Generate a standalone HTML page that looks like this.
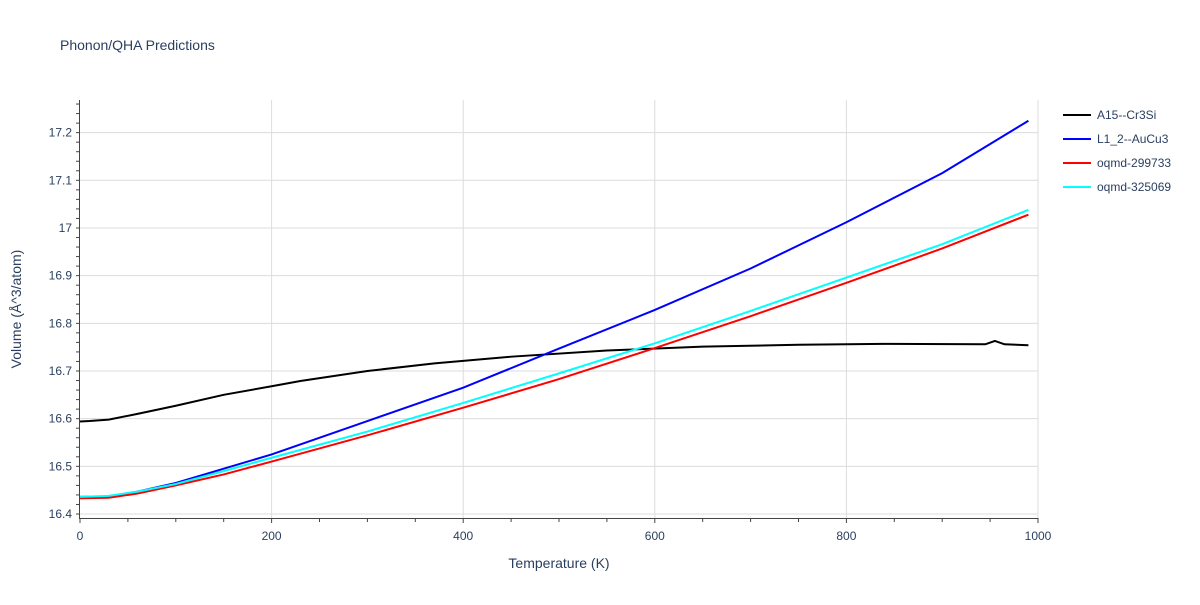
<!DOCTYPE html>
<html><head><meta charset="utf-8"><style>
body{margin:0;background:#fff;font-family:"Liberation Sans",sans-serif}
svg text{font-family:"Liberation Sans",sans-serif;fill:#2a3f5f}
</style></head><body>
<svg id="c" width="1200" height="600">
<text x="60" y="50" font-size="14">Phonon/QHA Predictions</text>
<g id="grid"></g><g id="axes"></g><g id="series"></g><g id="legend"></g>
<text x="559" y="568" font-size="14" text-anchor="middle">Temperature (K)</text>
<text transform="translate(21,309) rotate(-90)" font-size="14" text-anchor="middle">Volume (Å^3/atom)</text>
</svg>
<script>
const seriesNames=["A15--Cr3Si","L1_2--AuCu3","oqmd-299733","oqmd-325069"];
const seriesColors=["#000000","#0000ff","#ff0000","#00ffff"];
const tA=[0,10,30,60,100,150,200,230,300,370,450,550,650,750,838,945,955,965,990];
const vA=[16.594,16.595,16.598,16.61,16.627,16.65,16.668,16.679,16.7,16.716,16.73,16.743,16.751,16.755,16.757,16.756,16.763,16.756,16.754];
const tB=[0,30,60,100,150,200,230,300,400,500,600,700,800,900,990];
const vB=[16.436,16.437,16.447,16.465,16.495,16.525,16.546,16.595,16.665,16.747,16.828,16.915,17.012,17.115,17.225];
const tR=[0,30,60,100,150,200,300,400,500,600,700,800,900,990];
const vR=[16.433,16.434,16.443,16.46,16.483,16.51,16.565,16.623,16.683,16.748,16.815,16.885,16.957,17.028];
const tC=[0,30,60,100,150,200,300,400,500,600,700,800,900,990];
const vC=[16.436,16.438,16.447,16.463,16.49,16.518,16.573,16.633,16.695,16.758,16.826,16.896,16.966,17.038];
const xTicks=[0,200,400,600,800,1000];
const yTicks=[16.4,16.5,16.6,16.7,16.8,16.9,17,17.1,17.2];
const yTickLabels=["16.4","16.5","16.6","16.7","16.8","16.9","17","17.1","17.2"];
const X=t=>80+t*0.958, Y=v=>514-(v-16.4)*476.7;
const NS="http://www.w3.org/2000/svg";
function mk(tag,parent,attrs){const e=document.createElementNS(NS,tag);for(const k in attrs)e.setAttribute(k,attrs[k]);document.getElementById(parent).appendChild(e);return e;}
xTicks.forEach(t=>{
 if(t>0){const g=mk('line','grid',{x1:X(t),x2:X(t),y1:100,y2:518,stroke:'#dcdcdc'});
 
 }
 const l=mk('text','axes',{x:X(t),y:540,'font-size':12,'text-anchor':'middle'});l.textContent=t;
 
 
});
for(let t=0;t<=1000;t+=50){const k=mk('line','axes',{x1:X(t),x2:X(t),y1:518,y2:t%200==0?523:522,stroke:'#444'});
 
 }
yTicks.forEach((v,i)=>{
 const g=mk('line','grid',{x1:80,x2:1038,y1:Y(v),y2:Y(v),stroke:'#dcdcdc'});
 
 
 const l=mk('text','axes',{x:72,y:Y(v)+4,'font-size':12,'text-anchor':'end'});l.textContent=yTickLabels[i];
 
 
});
for(let i=0;i<=43;i++){const v=16.4+i*0.02;if(Y(v)<100)break;const k=mk('line','axes',{x1:76,x2:80,y1:Y(v),y2:Y(v),stroke:'#444'});
 
 }
const ax=mk('line','axes',{x1:79.5,x2:79.5,y1:100,y2:518,stroke:'#444'});


const bx=mk('line','axes',{x1:79,x2:1038,y1:518.5,y2:518.5,stroke:'#444'});


const data=[[tA,vA],[tB,vB],[tR,vR],[tC,vC]];
data.forEach((d,i)=>{
 const p=mk('polyline','series',{fill:'none',stroke:seriesColors[i],'stroke-width':2,points:d[0].map((t,j)=>X(t)+','+Y(d[1][j])).join(' ')});
 
 
 const y=115+i*24;
 const ll=mk('line','legend',{x1:1063,x2:1091,y1:y,y2:y,stroke:seriesColors[i],'stroke-width':2});
 
 
 const tx=mk('text','legend',{x:1097,y:y+4,'font-size':12});tx.textContent=seriesNames[i];
 
 
});
</script>
</body></html>
